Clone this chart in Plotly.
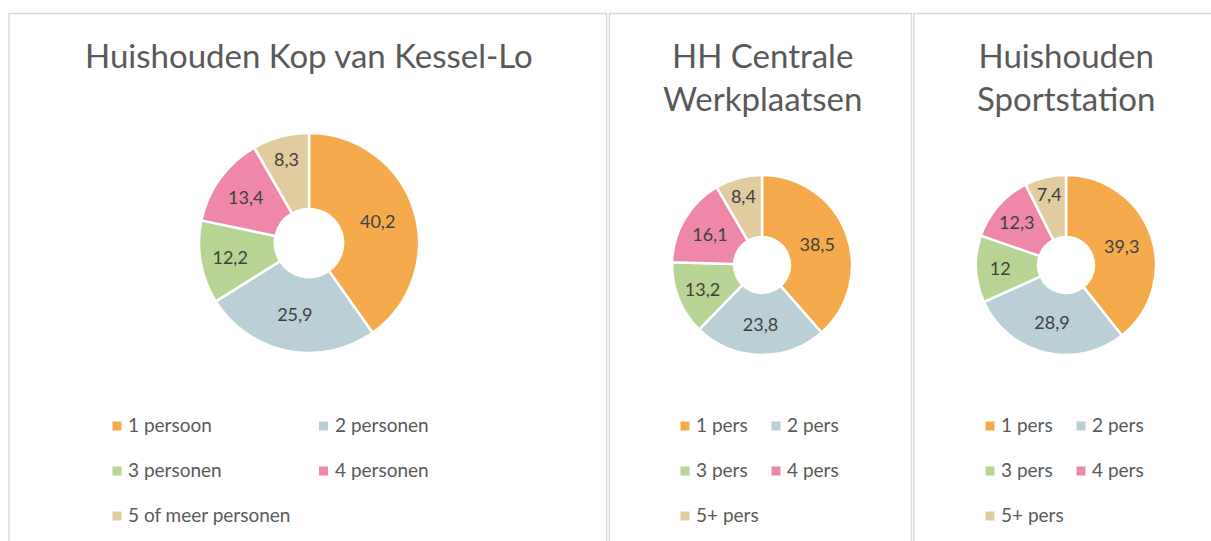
import plotly.graph_objects as go

# ---- data ----
labels_long = ["1 persoon", "2 personen", "3 personen", "4 personen", "5 of meer personen"]
labels_short = ["1 pers", "2 pers", "3 pers", "4 pers", "5+ pers"]
kessel_lo = [40.2, 25.9, 12.2, 13.4, 8.3]
centrale_werkplaatsen = [38.5, 23.8, 13.2, 16.1, 8.4]
sportstation = [39.3, 28.9, 12, 12.3, 7.4]
titles = ["Huishouden Kop van Kessel-Lo", "HH Centrale<br>Werkplaatsen", "Huishouden<br>Sportstation"]

colors = ["#F5AB4B", "#BACFD6", "#B8D494", "#EF88A8", "#E2CB9E"]

W, H = 1211, 541
FONT = "Lato"
TXT = "#595959"


def px(x):
    return x / W


def py(y):
    return 1 - y / H


def dom(cx, cy, r):
    return dict(x=[px(cx - r), px(cx + r)], y=[py(cy + r), py(cy - r)])


fig = go.Figure()

# panel layout: (labels, values, title, pie centre/radius, legend col x, col pitch)
panels = [
    (labels_long, kessel_lo, titles[0], (309, 243, 110), 117, 206.5),
    (labels_short, centrale_werkplaatsen, titles[1], (762, 265, 90), 685, 91),
    (labels_short, sportstation, titles[2], (1066, 265, 90), 990, 91),
]
LEG_ROW0, LEG_ROW_PITCH, MK = 426, 45, 9

for labs, vals, title, (cx, cy, r), lx, pitch in panels:
    fig.add_trace(go.Pie(
        labels=labs,
        values=vals,
        sort=False,
        direction="clockwise",
        rotation=0,
        hole=0.31,
        domain=dom(cx, cy, r),
        marker=dict(colors=colors, line=dict(color="white", width=2.5)),
        texttemplate="%{value}",
        textposition="inside",
        insidetextorientation="horizontal",
        textfont=dict(family=FONT, size=18, color="#404040"),
        showlegend=False,
        hoverinfo="label+value",
    ))
    # title
    fig.add_annotation(text=title, x=px(cx), y=py(33), xref="paper", yref="paper",
                       xanchor="center", yanchor="top", showarrow=False,
                       font=dict(family=FONT, size=33, color=TXT))
    # legend (two columns, built from the label list)
    for i, (lab, col) in enumerate(zip(labs, colors)):
        mx = lx + (i % 2) * pitch
        my = LEG_ROW0 + (i // 2) * LEG_ROW_PITCH
        fig.add_shape(type="rect", xref="paper", yref="paper",
                      x0=px(mx - MK / 2), x1=px(mx + MK / 2),
                      y0=py(my + MK / 2), y1=py(my - MK / 2),
                      fillcolor=col, line=dict(width=0))
        fig.add_annotation(text=lab, x=px(mx + 9), y=py(my - 2), xref="paper", yref="paper",
                           xanchor="left", yanchor="middle", showarrow=False,
                           font=dict(family=FONT, size=19, color=TXT))

fig.update_layout(
    width=W, height=H,
    margin=dict(l=0, r=0, t=0, b=0),
    paper_bgcolor="white",
    plot_bgcolor="white",
    separators=",.",
    showlegend=False,
)

# panel borders
border = dict(color="#D9D9D9", width=1.5)
for x0, x1 in [(9, 606.5), (609.5, 911.5), (914, 1260)]:
    fig.add_shape(type="rect", xref="paper", yref="paper",
                  x0=px(x0), x1=px(x1), y0=py(13.5), y1=py(600),
                  line=border, fillcolor="rgba(0,0,0,0)", layer="below")

fig.write_html("out.html", config={"displayModeBar": False},
               post_script="document.body.style.margin='0px';document.body.style.overflow='hidden';")
